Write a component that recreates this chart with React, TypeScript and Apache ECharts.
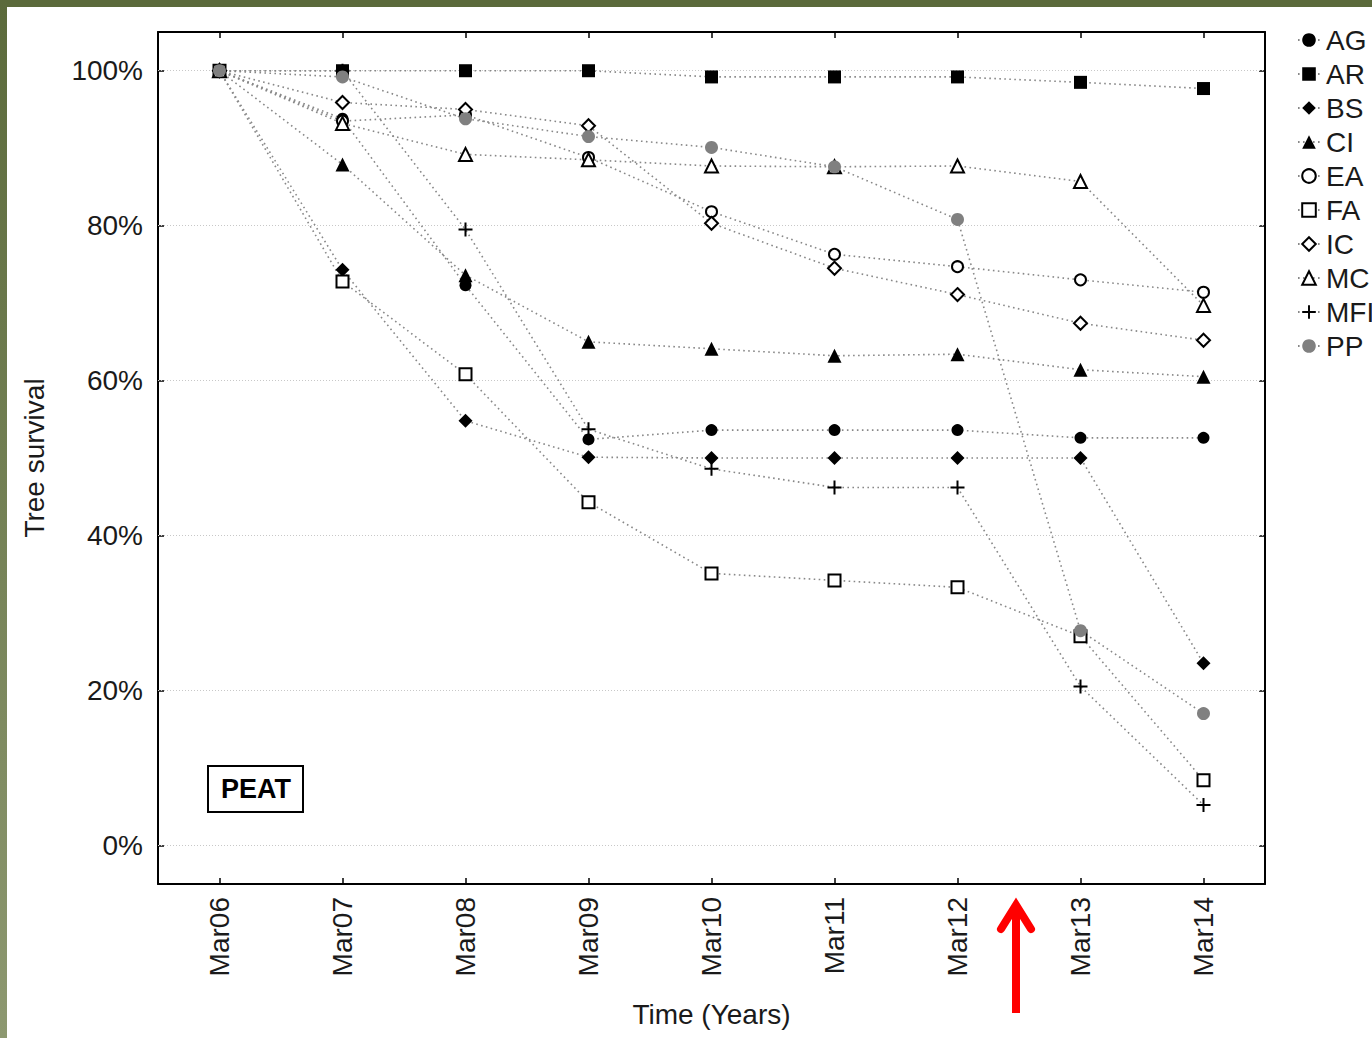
import React, { useEffect, useRef } from "react";
import * as echarts from "echarts";

const categories = ["Mar06", "Mar07", "Mar08", "Mar09", "Mar10", "Mar11", "Mar12", "Mar13", "Mar14"];
const yTicks = [0, 20, 40, 60, 80, 100];

const AG = [100, 93.8, 72.3, 52.4, 53.6, 53.6, 53.6, 52.6, 52.6];
const AR = [100, 100, 100, 100, 99.2, 99.2, 99.2, 98.5, 97.7];
const BS = [100, 74.3, 54.8, 50.1, 50, 50, 50, 50, 23.5];
const CI = [100, 87.9, 73.6, 65.0, 64.1, 63.2, 63.4, 61.4, 60.5];
const EA = [100, 93.5, 94.3, 88.8, 81.8, 76.3, 74.7, 73.0, 71.4];
const FA = [100, 72.8, 60.8, 44.3, 35.1, 34.2, 33.3, 27.0, 8.4];
const IC = [100, 95.9, 95.0, 92.9, 80.3, 74.5, 71.1, 67.4, 65.2];
const MC = [100, 93.2, 89.2, 88.5, 87.7, 87.6, 87.7, 85.7, 69.7];
const MFI = [100, 100, 79.5, 53.7, 48.6, 46.2, 46.2, 20.5, 5.2];
const PP = [100, 99.2, 93.8, 91.5, 90.1, 87.6, 80.8, 27.7, 17.0];

const PLUS = "path://M-1,-7H1V-1H7V1H1V7H-1V1H-7V-1H-1Z";

const FONT = "'Liberation Sans', Arial, sans-serif";
const TXT = "#1a1a1a";

type Def = { name: string; data: number[]; symbol: string; size: number; open?: boolean; color?: string };

const defs: Def[] = [
  { name: "AG", data: AG, symbol: "circle", size: 12 },
  { name: "AR", data: AR, symbol: "rect", size: 13 },
  { name: "BS", data: BS, symbol: "diamond", size: 14 },
  { name: "CI", data: CI, symbol: "triangle", size: 14 },
  { name: "EA", data: EA, symbol: "circle", size: 11, open: true },
  { name: "FA", data: FA, symbol: "rect", size: 12, open: true },
  { name: "IC", data: IC, symbol: "diamond", size: 13, open: true },
  { name: "MC", data: MC, symbol: "triangle", size: 13, open: true },
  { name: "MFI", data: MFI, symbol: PLUS, size: 14 },
  { name: "PP", data: PP, symbol: "circle", size: 13, color: "#808080" },
];

export default function App() {
  const ref = useRef<HTMLDivElement>(null);
  useEffect(() => {
    if (!ref.current) return;
    const chart = echarts.init(ref.current, undefined, { renderer: "svg" });
    const series: any[] = defs.map((d, i) => ({
      type: "line",
      name: d.name,
      data: d.data,
      xAxisIndex: 0,
      yAxisIndex: 0,
      symbol: d.symbol,
      symbolSize: d.size,
      showAllSymbol: true,
      itemStyle: d.open
        ? { color: "#ffffff", borderColor: "#000000", borderWidth: 2 }
        : { color: d.color || "#000000", borderWidth: 0 },
      lineStyle: { color: "#888888", width: 1.6, type: [1.6, 3.4] },
      emphasis: { disabled: true },
      z: 3,
      markLine:
        i === 0
          ? {
              silent: true,
              symbol: "none",
              label: { show: false },
              lineStyle: { color: "#c8c8c8", width: 1, type: [1, 2] },
              data: yTicks.map((v) => ({ yAxis: v })),
              z: 1,
            }
          : undefined,
    }));

    const option: any = {
      animation: false,
      backgroundColor: "#ffffff",
      textStyle: { fontFamily: FONT },
      grid: { left: 158, right: 107, top: 32, bottom: 154, containLabel: false, outerBoundsMode: "none" },
      legend: {
        orient: "vertical",
        left: 1292,
        top: 21,
        itemWidth: 22,
        itemHeight: 17,
        itemGap: 6,
        textStyle: { fontSize: 28, color: TXT, fontFamily: FONT, lineHeight: 28, padding: [0, 0, 0, 1] },
        data: defs.map((d) => d.name),
        selectedMode: false,
      },
      xAxis: [
        {
          type: "category",
          data: categories,
          position: "bottom",
          boundaryGap: true,
          axisLine: { show: true, onZero: false, lineStyle: { color: "#000", width: 2 } },
          axisTick: { show: true, inside: true, alignWithLabel: true, length: 6, lineStyle: { color: "#000", width: 1.5 } },
          axisLabel: { rotate: 90, fontSize: 28, color: TXT, margin: 13, fontFamily: FONT },
          splitLine: { show: false },
          name: "Time (Years)",
          nameLocation: "middle",
          nameGap: 116,
          nameTextStyle: { fontSize: 28, color: TXT, fontFamily: FONT },
        },
        {
          type: "category",
          data: categories,
          position: "top",
          boundaryGap: true,
          axisLine: { show: true, onZero: false, lineStyle: { color: "#000", width: 2 } },
          axisTick: { show: true, inside: true, alignWithLabel: true, length: 6, lineStyle: { color: "#000", width: 1.5 } },
          axisLabel: { show: false },
          splitLine: { show: false },
        },
      ],
      yAxis: [
        {
          type: "value",
          min: -5,
          max: 105,
          position: "left",
          axisLine: { show: true, onZero: false, lineStyle: { color: "#000", width: 2 } },
          axisTick: { show: true, inside: true, length: 6, customValues: yTicks, lineStyle: { color: "#000", width: 1.5 } },
          axisLabel: {
            customValues: yTicks,
            formatter: (v: number) => v + "%",
            fontSize: 28,
            color: TXT,
            margin: 15,
            fontFamily: FONT,
          },
          splitLine: { show: false },
          name: "Tree survival",
          nameLocation: "middle",
          nameGap: 110,
          nameRotate: 90,
          nameTextStyle: { fontSize: 28, color: TXT, fontFamily: FONT },
        },
        {
          type: "value",
          min: -5,
          max: 105,
          position: "right",
          axisLine: { show: true, onZero: false, lineStyle: { color: "#000", width: 2 } },
          axisTick: { show: true, inside: true, length: 6, customValues: yTicks, lineStyle: { color: "#000", width: 1.5 } },
          axisLabel: { show: false },
          splitLine: { show: false },
        },
      ],
      series,
      graphic: [
        { type: "rect", shape: { x: 0, y: 0, width: 1372, height: 7 }, style: { fill: "#5b6a3b" }, z: 100 },
        {
          type: "rect",
          shape: { x: 0, y: 0, width: 7, height: 1038 },
          style: {
            fill: new echarts.graphic.LinearGradient(0, 0, 0, 1, [
              { offset: 0, color: "#5b6a3b" },
              { offset: 1, color: "#8d9870" },
            ]),
          },
          z: 100,
        },
        {
          type: "rect",
          shape: { x: 208, y: 766, width: 95, height: 46 },
          style: { fill: "#ffffff", stroke: "#000", lineWidth: 2 },
          z: 50,
        },
        {
          type: "text",
          x: 256,
          y: 789,
          style: {
            text: "PEAT",
            font: "bold 27px 'Liberation Sans', Arial, sans-serif",
            fill: "#000",
            align: "center",
            verticalAlign: "middle",
          },
          z: 51,
        },
        {
          type: "line",
          shape: { x1: 1016, y1: 1013, x2: 1016, y2: 904 },
          style: { stroke: "#ff0000", lineWidth: 8 },
          z: 60,
        },
        {
          type: "polyline",
          shape: { points: [[1001, 929], [1016, 905], [1031, 929]] },
          style: { stroke: "#ff0000", lineWidth: 8, lineCap: "round", lineJoin: "miter", fill: "none" },
          z: 60,
        },
      ],
    };
    chart.setOption(option);
    return () => chart.dispose();
  }, []);
  return (
    <div
      ref={ref}
      style={{ position: "absolute", left: 0, top: 0, width: 1372, height: 1038, background: "#fff" }}
    />
  );
}
